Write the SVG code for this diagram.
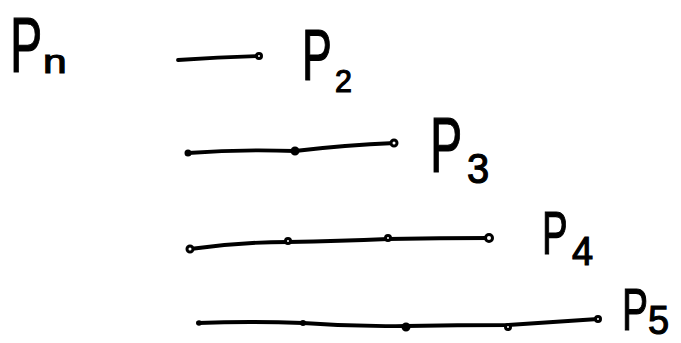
<svg xmlns="http://www.w3.org/2000/svg" width="681" height="343" viewBox="0 0 681 343">
<style>
.ln{fill:none;stroke:#000;stroke-width:3.8;stroke-linecap:round;stroke-linejoin:round}
.pt{fill:#fff;stroke:#000;stroke-width:3}
.ptf{fill:#000;stroke:#000;stroke-width:2}
.lb{font-family:"Liberation Sans","DejaVu Sans",sans-serif;fill:#000;stroke:#000;stroke-width:1.2}
</style>
<rect width="681" height="343" fill="#fff"/>
<g id="connectors">
<path class="ln" d="M178,60 Q220,57 259,56"/>
<path class="ln" d="M188,153 Q240,149 295,151 Q345,145 395,143"/>
<path class="ln" d="M190,249 Q240,242 288,242 Q340,241 388,239 Q440,238 490,238"/>
<path class="ln" d="M198,323 Q250,321 303,323 Q355,327 406,326 Q458,325 508,325 Q555,322 598,319"/>
</g>
<g id="p1">
<g transform="translate(10,72) scale(0.62,1)"><text class="lb" x="0" y="0" font-size="78">P</text></g>
<g transform="translate(43,73) scale(1.25,1)"><text class="lb" x="0" y="0" font-size="34">n</text></g>
</g>
<g id="p2">
<circle class="pt" cx="259" cy="56" r="2.5"/>
<g transform="translate(302,80) scale(0.62,1)"><text class="lb" x="0" y="0" font-size="72">P</text></g>
<g transform="translate(335,92) scale(0.95,1)"><text class="lb" x="0" y="0" font-size="32">2</text></g>
</g>
<g id="p3">
<circle class="ptf" cx="188" cy="153" r="2.5"/>
<circle class="ptf" cx="295" cy="151" r="3.5"/>
<circle class="pt" cx="394" cy="143" r="3"/>
<g transform="translate(430,172) scale(0.62,1)"><text class="lb" x="0" y="0" font-size="78">P</text></g>
<g transform="translate(467,183) scale(0.95,1)"><text class="lb" x="0" y="0" font-size="42">3</text></g>
</g>
<g id="p4">
<circle class="pt" cx="190" cy="249" r="3"/>
<circle class="pt" cx="288" cy="241" r="2.5"/>
<circle class="pt" cx="388" cy="238" r="2.5"/>
<circle class="pt" cx="489" cy="238" r="3.5"/>
<g transform="translate(542,254) scale(0.62,1)"><text class="lb" x="0" y="0" font-size="62">P</text></g>
<g transform="translate(572,265) scale(0.95,1)"><text class="lb" x="0" y="0" font-size="40">4</text></g>
</g>
<g id="p5">
<circle class="ptf" cx="199" cy="323" r="1.8"/>
<circle class="ptf" cx="303" cy="323" r="2"/>
<circle class="ptf" cx="406" cy="327" r="3.5"/>
<circle class="pt" cx="508" cy="327" r="2.5"/>
<circle class="pt" cx="598" cy="319" r="2.5"/>
<g transform="translate(622,330) scale(0.65,1)"><text class="lb" x="0" y="0" font-size="60">P</text></g>
<g transform="translate(648,334) scale(0.95,1)"><text class="lb" x="0" y="0" font-size="40">5</text></g>
</g>
</svg>
